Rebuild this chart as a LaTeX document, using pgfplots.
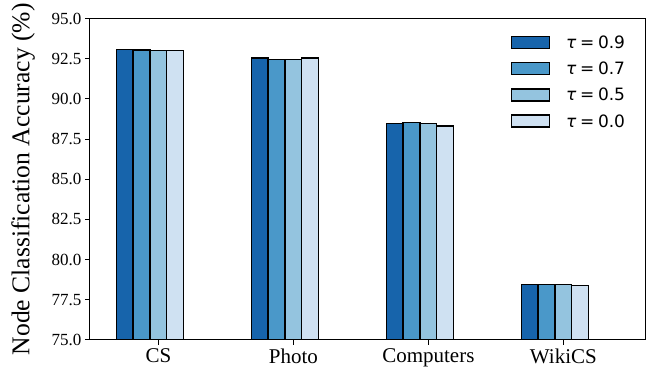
\documentclass[border=0pt]{standalone}
\usepackage{pgfplots}
\pgfplotsset{compat=1.18}
\usepackage{fontspec}
\setmainfont{Liberation Serif}
\newfontfamily\legfont{DejaVu Sans}

\definecolor{b1}{HTML}{1764AB}
\definecolor{b2}{HTML}{4A98C9}
\definecolor{b3}{HTML}{94C4DF}
\definecolor{b4}{HTML}{CFE1F2}

% accuracy per dataset (0 = CS, 1 = Photo, 2 = Computers, 3 = WikiCS)
\pgfplotstableread{
x  t09    t07    t05    t00
0  93.08  93.04  93.02  93.03
1  92.55  92.45  92.45  92.55
2  88.48  88.52  88.46  88.32
3  78.45  78.47  78.43  78.40
}\acc

\newcommand{\tauentry}[1]{{\legfont\itshape τ}\hspace{0.22em}={\hspace{0.22em}}#1}

\begin{document}
\begin{tikzpicture}
\begin{axis}[
  scale only axis,
  width=555.7pt, height=321.4pt,
  xmin=-0.507, xmax=3.61,
  ymin=75, ymax=95,
  ytick={75,77.5,...,95},
  xtick={0,1,2,3},
  xticklabels={CS,Photo,Computers,WikiCS},
  /pgf/number format/assume math mode=true,
  yticklabel style={/pgf/number format/fixed,/pgf/number format/fixed zerofill,/pgf/number format/precision=1,
    font=\fontsize{17}{17}\selectfont},
  xticklabel style={font=\fontsize{21}{21}\selectfont},
  tick align=outside,
  major tick length=5pt,
  xtick pos=bottom, ytick pos=left,
  axis line style={line width=1pt},
  tick style={line width=1pt, black},
  ylabel={Node Classification Accuracy (\%)},
  ylabel shift=10pt,
  ylabel style={font=\fontsize{25.6}{25.6}\selectfont},
  ybar, bar width=16.9pt,
  every axis plot/.append style={draw=black, line width=1.2pt},
  legend style={
    at={(axis description cs:0.757,0.946)}, anchor=north west,
    draw=none, fill=none, inner sep=0pt, row sep=12pt, column sep=0pt,
    font=\legfont\fontsize{17}{17}\selectfont,
    nodes={inner sep=0pt, anchor=base},
  },
  legend cell align=left,
  legend image code/.code={
    \draw[#1, draw=black, line width=1.2pt] (0pt,0pt) rectangle (38pt,12pt);
    \path (54pt,0pt);
  },
]
\addplot[fill=b1, bar shift=-33.8pt] table[x=x, y=t09] {\acc};
\addplot[fill=b2, bar shift=-16.9pt] table[x=x, y=t07] {\acc};
\addplot[fill=b3, bar shift=0pt] table[x=x, y=t05] {\acc};
\addplot[fill=b4, bar shift=16.9pt] table[x=x, y=t00] {\acc};
\legend{\tauentry{0.9},\tauentry{0.7},\tauentry{0.5},\tauentry{0.0}}
\end{axis}
\path ([xshift=-90pt,yshift=-37.3pt]current axis.south west)
  rectangle ([xshift=11.3pt,yshift=18.3pt]current axis.north east);
\end{tikzpicture}
\end{document}
